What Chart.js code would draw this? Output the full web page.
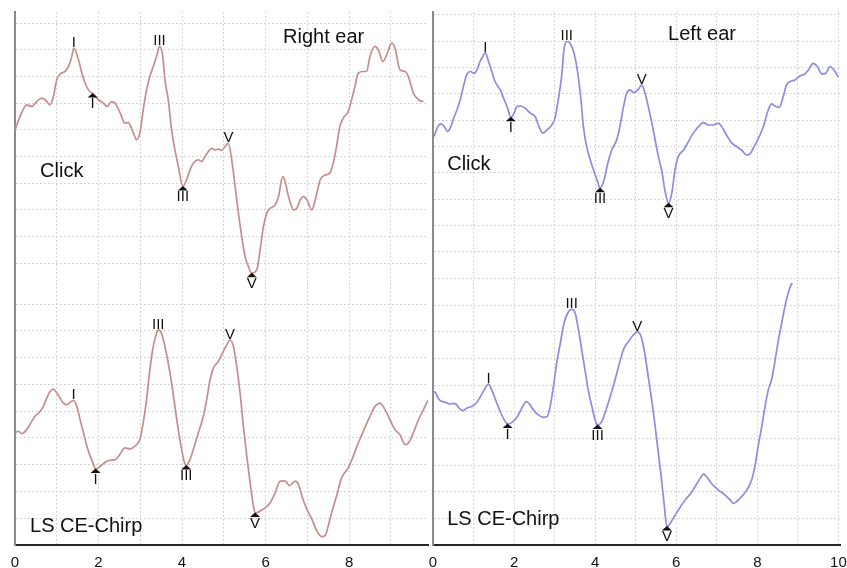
<!DOCTYPE html>
<html>
<head>
<meta charset="utf-8">
<script src="https://cdn.jsdelivr.net/npm/chart.js@4/dist/chart.umd.min.js"></script>
<style>
  html, body { margin: 0; padding: 0; background: #fff; }
  #wrap { position: relative; width: 847px; height: 568px; overflow: hidden; background: #fff; }
  canvas { position: absolute; }
</style>
</head>
<body>
<div id="wrap">
  <canvas id="tl" width="430" height="296" style="left:0;top:0"></canvas>
  <canvas id="tr" width="429" height="296" style="left:418px;top:0"></canvas>
  <canvas id="bl" width="430" height="288" style="left:0;top:280px"></canvas>
  <canvas id="br" width="429" height="288" style="left:418px;top:280px"></canvas>
</div>
<script>
// latency in ms, amplitude in grid divisions

// Right ear, click
const rightClickX = [0, 0.12, 0.28, 0.40, 0.52, 0.64, 0.72, 0.84, 0.92, 1.00, 1.08, 1.20, 1.28, 1.36, 1.41, 1.52, 1.60, 1.68, 1.76, 1.86, 2.00, 2.12, 2.20, 2.32, 2.40, 2.52, 2.63, 2.71, 2.79, 2.87, 2.91, 2.99, 3.07, 3.15, 3.23, 3.31, 3.39, 3.46, 3.54, 3.59, 3.67, 3.75, 3.83, 3.91, 4.02, 4.11, 4.19, 4.27, 4.39, 4.47, 4.55, 4.63, 4.71, 4.79, 4.87, 4.95, 5.03, 5.11, 5.19, 5.27, 5.35, 5.43, 5.51, 5.59, 5.67, 5.79, 5.87, 5.95, 6.03, 6.11, 6.23, 6.31, 6.41, 6.47, 6.55, 6.67, 6.75, 6.83, 6.91, 6.99, 7.11, 7.19, 7.31, 7.43, 7.54, 7.62, 7.70, 7.78, 7.86, 7.98, 8.06, 8.14, 8.22, 8.34, 8.42, 8.50, 8.62, 8.70, 8.81, 8.90, 9.02, 9.10, 9.22, 9.34, 9.42, 9.54, 9.66, 9.78];
const rightClickY = [6.00, 6.50, 6.94, 6.88, 7.06, 7.19, 7.13, 6.94, 7.25, 7.88, 8.10, 8.19, 8.38, 8.75, 9.06, 8.63, 8.13, 7.75, 7.50, 7.36, 7.13, 7.00, 6.88, 7.06, 7.00, 6.63, 6.25, 6.28, 6.06, 5.75, 5.63, 5.88, 6.75, 7.50, 8.00, 8.38, 8.75, 9.13, 8.75, 7.88, 7.13, 6.00, 5.25, 4.63, 3.88, 4.13, 4.50, 4.75, 4.88, 4.81, 5.00, 5.19, 5.31, 5.25, 5.28, 5.23, 5.38, 5.50, 4.88, 3.88, 2.88, 2.00, 1.25, 0.88, 0.63, 0.75, 1.50, 2.38, 2.88, 3.06, 3.19, 3.50, 4.25, 4.06, 3.50, 3.00, 3.06, 3.38, 3.50, 3.38, 3.00, 3.38, 4.13, 4.31, 4.38, 4.75, 5.38, 6.13, 6.44, 6.69, 7.13, 7.63, 8.13, 8.19, 8.19, 8.75, 9.13, 9.00, 8.56, 8.81, 9.25, 9.06, 8.25, 8.19, 8.00, 7.38, 7.13, 7.06];

// Right ear, LS CE-Chirp
const rightChirpX = [0, 0.08, 0.16, 0.28, 0.40, 0.48, 0.60, 0.68, 0.76, 0.84, 0.92, 1.00, 1.08, 1.16, 1.24, 1.32, 1.40, 1.48, 1.56, 1.64, 1.72, 1.80, 1.88, 1.93, 2.04, 2.16, 2.28, 2.40, 2.51, 2.63, 2.75, 2.87, 2.99, 3.07, 3.15, 3.23, 3.31, 3.39, 3.43, 3.51, 3.59, 3.67, 3.75, 3.83, 3.91, 3.99, 4.06, 4.10, 4.19, 4.27, 4.39, 4.51, 4.59, 4.67, 4.75, 4.87, 4.95, 5.07, 5.15, 5.23, 5.31, 5.39, 5.47, 5.55, 5.63, 5.71, 5.75, 5.87, 5.99, 6.11, 6.23, 6.35, 6.47, 6.57, 6.71, 6.79, 6.87, 6.99, 7.11, 7.23, 7.35, 7.43, 7.50, 7.58, 7.70, 7.82, 7.98, 8.10, 8.22, 8.34, 8.50, 8.62, 8.74, 8.86, 8.98, 9.10, 9.22, 9.34, 9.42, 9.54, 9.66, 9.78, 9.90];
const rightChirpY = [4.19, 4.25, 4.16, 4.31, 4.62, 4.81, 4.99, 5.18, 5.49, 5.74, 5.83, 5.68, 5.49, 5.30, 5.24, 5.33, 5.40, 5.18, 4.68, 4.19, 3.70, 3.32, 3.01, 2.84, 2.94, 3.09, 3.17, 3.19, 3.38, 3.63, 3.59, 3.69, 3.94, 4.56, 5.43, 6.55, 7.42, 7.91, 8.04, 7.91, 7.42, 6.80, 6.05, 5.18, 4.31, 3.57, 3.07, 2.97, 3.19, 3.57, 4.19, 4.81, 5.43, 6.17, 6.61, 6.86, 7.11, 7.48, 7.66, 7.42, 6.67, 5.68, 4.43, 3.32, 2.32, 1.45, 1.20, 1.27, 1.39, 1.58, 1.95, 2.39, 2.39, 2.22, 2.39, 2.26, 1.83, 1.33, 0.96, 0.52, 0.31, 0.36, 0.71, 1.20, 1.83, 2.51, 2.88, 3.32, 3.81, 4.25, 4.81, 5.18, 5.30, 5.06, 4.68, 4.31, 4.12, 3.75, 3.81, 4.19, 4.68, 5.06, 5.43];

// Left ear, click
const leftClickX = [0.03, 0.10, 0.19, 0.28, 0.36, 0.44, 0.51, 0.59, 0.67, 0.75, 0.83, 0.92, 1.02, 1.10, 1.16, 1.23, 1.29, 1.37, 1.45, 1.53, 1.66, 1.74, 1.84, 1.92, 2.00, 2.07, 2.15, 2.27, 2.40, 2.52, 2.60, 2.71, 2.81, 2.93, 3.01, 3.09, 3.18, 3.23, 3.30, 3.38, 3.48, 3.56, 3.65, 3.71, 3.79, 3.88, 3.96, 4.06, 4.12, 4.22, 4.30, 4.41, 4.53, 4.61, 4.70, 4.78, 4.86, 4.96, 5.07, 5.15, 5.23, 5.31, 5.40, 5.48, 5.56, 5.64, 5.72, 5.81, 5.89, 5.97, 6.05, 6.18, 6.30, 6.42, 6.55, 6.67, 6.79, 6.92, 7.04, 7.12, 7.24, 7.37, 7.49, 7.61, 7.74, 7.82, 7.90, 8.03, 8.15, 8.27, 8.35, 8.44, 8.54, 8.64, 8.72, 8.81, 8.93, 9.05, 9.18, 9.26, 9.38, 9.48, 9.59, 9.69, 9.79, 9.89, 10.0];
const leftClickY = [6.38, 6.70, 6.86, 6.76, 6.57, 6.76, 7.08, 7.39, 7.77, 8.28, 8.72, 8.85, 8.78, 8.97, 9.23, 9.42, 9.57, 9.23, 8.85, 8.47, 8.15, 7.84, 7.46, 7.11, 7.27, 7.52, 7.54, 7.46, 7.27, 7.14, 6.82, 6.51, 6.63, 6.82, 7.08, 7.77, 8.78, 9.67, 9.99, 9.92, 9.54, 8.91, 7.77, 6.76, 6.00, 5.49, 5.11, 4.67, 4.42, 4.73, 5.30, 5.87, 6.25, 6.76, 7.52, 8.03, 8.15, 8.05, 8.18, 8.34, 8.03, 7.52, 6.89, 6.25, 5.62, 5.11, 4.35, 3.85, 4.23, 5.11, 5.62, 5.87, 6.19, 6.51, 6.76, 6.91, 6.82, 6.82, 6.89, 6.76, 6.44, 6.13, 6.00, 5.87, 5.68, 5.72, 5.94, 6.32, 6.76, 7.39, 7.62, 7.54, 7.49, 7.90, 8.34, 8.47, 8.53, 8.68, 8.76, 8.91, 9.16, 9.04, 8.76, 8.78, 9.04, 8.91, 8.63];

// Left ear, LS CE-Chirp
const leftChirpX = [0, 0.05, 0.10, 0.16, 0.24, 0.33, 0.41, 0.49, 0.57, 0.65, 0.74, 0.83, 0.96, 1.06, 1.16, 1.26, 1.37, 1.45, 1.56, 1.66, 1.76, 1.84, 1.94, 2.07, 2.19, 2.30, 2.38, 2.48, 2.60, 2.72, 2.81, 2.89, 2.97, 3.05, 3.14, 3.23, 3.34, 3.42, 3.51, 3.59, 3.67, 3.75, 3.83, 3.92, 4.00, 4.06, 4.16, 4.24, 4.37, 4.49, 4.61, 4.71, 4.82, 4.94, 5.04, 5.12, 5.21, 5.31, 5.44, 5.53, 5.62, 5.70, 5.77, 5.85, 5.95, 6.08, 6.22, 6.36, 6.49, 6.59, 6.67, 6.75, 6.87, 7.04, 7.20, 7.33, 7.41, 7.51, 7.61, 7.74, 7.86, 7.94, 8.02, 8.11, 8.19, 8.27, 8.35, 8.44, 8.52, 8.60, 8.68, 8.76, 8.85, 8.90];
const leftChirpY = [5.69, 5.75, 5.59, 5.44, 5.38, 5.34, 5.29, 5.31, 5.28, 5.13, 5.04, 5.13, 5.21, 5.31, 5.54, 5.81, 6.04, 5.81, 5.38, 5.00, 4.69, 4.54, 4.59, 4.79, 5.13, 5.38, 5.29, 5.06, 4.88, 4.79, 4.81, 5.19, 5.94, 6.81, 7.56, 8.31, 8.75, 8.84, 8.69, 8.06, 7.31, 6.56, 5.81, 5.19, 4.69, 4.50, 4.63, 4.94, 5.56, 6.19, 6.88, 7.38, 7.63, 7.88, 8.00, 7.88, 7.31, 6.31, 4.94, 3.81, 2.69, 1.56, 0.69, 0.81, 1.06, 1.38, 1.69, 1.94, 2.25, 2.50, 2.66, 2.56, 2.31, 2.06, 1.88, 1.69, 1.56, 1.66, 1.81, 2.06, 2.44, 2.94, 3.69, 4.44, 5.19, 5.81, 6.19, 6.94, 7.69, 8.31, 8.94, 9.44, 9.81, 9.88];

// wave labels and latencies of the marked peaks / troughs
const waveNames = ['I', 'III', 'V'];
const rightClickPeaks = [1.41, 3.46, 5.11];
const rightClickTroughs = [1.86, 4.02, 5.67];
const rightChirpPeaks = [1.40, 3.43, 5.15];
const rightChirpTroughs = [1.93, 4.10, 5.75];
const leftClickPeaks = [1.29, 3.30, 5.15];
const leftClickTroughs = [1.92, 4.12, 5.81];
const leftChirpPeaks = [1.37, 3.42, 5.04];
const leftChirpTroughs = [1.84, 4.06, 5.77];

const RED = '#c48e8e';
const BLUE = '#8c8ce2';
const GRID = '#c8c8c8';
const textFont = '20px "Liberation Sans", Arial, sans-serif';
const waveFont = '15px "Liberation Sans", Arial, sans-serif';

const waveLabels = {
  id: 'waveLabels',
  afterDatasetsDraw(chart, args, opts) {
    const { ctx } = chart;
    const xs = chart.scales.x, ys = chart.scales.y;
    const pts = chart.data.datasets[0].data;
    const nearest = t => pts.reduce((a, b) => Math.abs(b.x - t) < Math.abs(a.x - t) ? b : a);
    ctx.save();
    ctx.fillStyle = '#111';
    ctx.textAlign = 'center';
    ctx.font = waveFont;
    opts.peaks.forEach((t, i) => {
      const p = nearest(t);
      const px = xs.getPixelForValue(p.x), py = ys.getPixelForValue(p.y);
      ctx.textBaseline = 'alphabetic';
      ctx.fillText(waveNames[i], px, py - 1);
    });
    opts.troughs.forEach((t, i) => {
      const p = nearest(t);
      const px = xs.getPixelForValue(p.x), py = ys.getPixelForValue(p.y);
      ctx.beginPath();
      ctx.moveTo(px, py - 0.5);
      ctx.lineTo(px + 5, py + 4);
      ctx.lineTo(px - 5, py + 4);
      ctx.closePath();
      ctx.fill();
      ctx.textBaseline = 'top';
      ctx.fillText(waveNames[i], px, py + 3);
    });
    ctx.font = textFont;
    ctx.textAlign = 'left';
    ctx.textBaseline = 'alphabetic';
    opts.texts.forEach(tx => {
      ctx.fillText(tx.text, xs.getPixelForValue(tx.x), ys.getPixelForValue(tx.y));
    });
    ctx.restore();
  }
};

function intTicks(lo, hi) {
  return scale => {
    const t = [];
    for (let v = Math.ceil(scale.min); v <= scale.max; v++) {
      if (v >= lo && v <= hi) t.push({ value: v });
    }
    scale.ticks = t;
  };
}

function makeChart(id, xs, ys, color, cfg) {
  return new Chart(document.getElementById(id), {
    type: 'line',
    data: {
      datasets: [{
        data: xs.map((x, i) => ({ x, y: ys[i] })),
        borderColor: color,
        borderWidth: 1.7,
        pointRadius: 0,
        cubicInterpolationMode: 'monotone',
        fill: false
      }]
    },
    options: {
      responsive: false,
      animation: false,
      devicePixelRatio: 1,
      layout: { padding: cfg.padding },
      plugins: {
        legend: { display: false },
        tooltip: { enabled: false },
        waveLabels: { peaks: cfg.peaks, troughs: cfg.troughs, texts: cfg.texts }
      },
      scales: {
        x: {
          type: 'linear',
          min: 0,
          max: cfg.xMax,
          afterBuildTicks: intTicks(0, 10),
          afterFit: s => {
            s.height = cfg.showTicks ? 23 : 0;
            s.paddingLeft = 0;
            s.paddingRight = 0;
          },
          grid: { color: GRID, lineWidth: 1, drawTicks: false },
          border: { display: cfg.showTicks, color: '#262626', width: 2, dash: [1.5, 2.5] },
          ticks: {
            display: cfg.showTicks,
            padding: 9,
            maxRotation: 0,
            autoSkip: false,
            color: '#111',
            font: { family: '"Liberation Sans Narrow", "Liberation Sans", Arial', size: 15 },
            callback: v => (v % 2 === 0 ? String(v) : '')
          }
        },
        y: {
          type: 'linear',
          min: cfg.yMin,
          max: cfg.yMax,
          afterBuildTicks: intTicks(1, 11),
          afterFit: s => {
            s.width = 0;
            s.paddingTop = 0;
            s.paddingBottom = 0;
          },
          grid: { color: GRID, lineWidth: 1, drawTicks: false },
          border: { display: true, color: '#8a8a8a', width: 2, dash: [1.5, 2.5] },
          ticks: { display: false }
        }
      }
    },
    plugins: [waveLabels]
  });
}

makeChart('tl', rightClickX, rightClickY, RED, {
  padding: { left: 15, right: 2, top: 12, bottom: 13 },
  xMax: 9.89, yMin: 0.26, yMax: 10.42, showTicks: false,
  peaks: rightClickPeaks, troughs: rightClickTroughs,
  texts: [{ text: 'Right ear', x: 6.42, y: 9.26 }, { text: 'Click', x: 0.6, y: 4.24 }]
});

makeChart('bl', rightChirpX, rightChirpY, RED, {
  padding: { left: 15, right: 2, top: 3, bottom: 0 },
  xMax: 9.89, yMin: 0, yMax: 9.79, showTicks: true,
  peaks: rightChirpPeaks, troughs: rightChirpTroughs,
  texts: [{ text: 'LS CE-Chirp', x: 0.36, y: 0.49 }]
});

makeChart('tr', leftClickX, leftClickY, BLUE, {
  padding: { left: 15, right: 7, top: 12, bottom: 13 },
  xMax: 10.04, yMin: 0.82, yMax: 11.11, showTicks: false,
  peaks: leftClickPeaks, troughs: leftClickTroughs,
  texts: [{ text: 'Left ear', x: 5.8, y: 10.05 }, { text: 'Click', x: 0.35, y: 5.11 }]
});

makeChart('br', leftChirpX, leftChirpY, BLUE, {
  padding: { left: 15, right: 7, top: 3, bottom: 0 },
  xMax: 10.04, yMin: 0, yMax: 9.83, showTicks: true,
  peaks: leftChirpPeaks, troughs: leftChirpTroughs,
  texts: [{ text: 'LS CE-Chirp', x: 0.35, y: 0.75 }]
});
</script>
</body>
</html>
